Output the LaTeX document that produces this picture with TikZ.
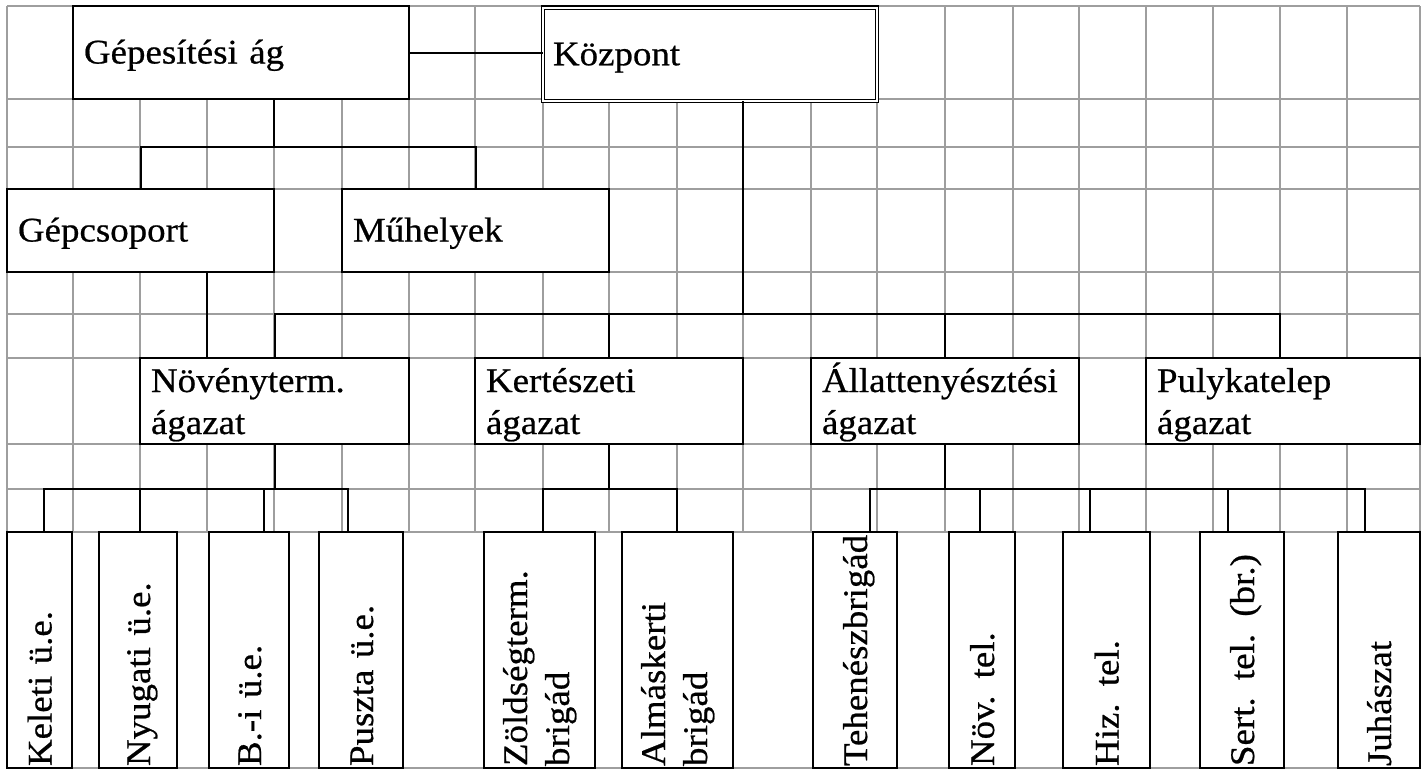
\documentclass[tikz,border=0pt]{standalone}
\usepackage{fontspec}
\setmainfont{Liberation Serif}[FakeStretch=1.07,FakeBold=0.6]
\definecolor{gridgray}{RGB}{158,158,158}
\begin{document}
\begin{tikzpicture}[x=1pt,y=-1pt]
\tikzset{
  gridline/.style={draw=gridgray, line width=1.6pt},
  conn/.style={draw=black, line width=2pt},
  box/.style={draw=black, line width=2pt, fill=white, rectangle, inner sep=0pt,
    inner xsep=11pt, outer sep=0pt, align=left, font=\fontsize{34.5}{42}\selectfont},
  one/.style={text height=30pt, text depth=8pt},
  two/.style={text height=31pt, text depth=49pt},
  vbox/.style={box, rotate=90, inner xsep=2pt, minimum width=236pt, text width=232pt},
  vone/.style={text height=32pt, text depth=8pt},
  vtwo/.style={text height=26pt, text depth=51pt},
}
\useasboundingbox (0,0) rectangle (1427,769);
\fill[white] (0,0) rectangle (1427,769);
% grid
\foreach \x in {7,73,140,207,274,342,409,475,543,609,677,743,811,877,945,1013,1079,1146,1213,1280,1347,1420}
  \draw[gridline] (\x,6) -- (\x,532);
\foreach \y in {6,99,147,189,272,314,358,444,489,532,768}
  \draw[gridline] (7,\y) -- (1420,\y);
% top level
\node[box,one,minimum width=336pt,minimum height=93pt,text width=314pt] (gep) at (241,52.5) {Gépesítési ág};
\node[box,one,double,double distance=2pt,line width=1.3pt,inner xsep=10pt,minimum width=334pt,minimum height=93.5pt,text width=314pt] (kozp) at (710,54.25) {Központ};
\node[box,one,minimum width=267pt,minimum height=83pt,text width=245pt] (gcs) at (140.5,230.5) {Gépcsoport};
\node[box,one,minimum width=267pt,minimum height=83pt,text width=245pt] (muh) at (475.5,230.5) {Műhelyek};
% branches
\node[box,two,minimum width=269pt,minimum height=86pt,text width=247pt] (nov) at (274.5,401) {Növényterm.\\ágazat};
\node[box,two,minimum width=268pt,minimum height=86pt,text width=246pt] (kert) at (609,401) {Kertészeti\\ágazat};
\node[box,two,minimum width=268pt,minimum height=86pt,text width=246pt] (all) at (945,401) {Állattenyésztési\\ágazat};
\node[box,two,minimum width=274pt,minimum height=86pt,text width=252pt] (puly) at (1283,401) {Pulykatelep\\ágazat};
% bottom units
\node[vbox,vone,minimum height=65pt] (kel) at (39.5,650) {Keleti ü.e.};
\node[vbox,vone,minimum height=78pt] (nyu) at (138,650) {Nyugati ü.e.};
\node[vbox,vone,minimum height=80pt] (bi) at (249,650) {B.-i ü.e.};
\node[vbox,vone,minimum height=84pt] (pus) at (361,650) {Puszta ü.e.};
\node[vbox,vtwo,minimum height=111pt] (zold) at (539.5,650) {Zöldségterm.\\brigád};
\node[vbox,vtwo,minimum height=111pt] (alm) at (677.5,650) {Almáskerti\\brigád};
\node[vbox,vone,minimum height=84pt] (teh) at (855,650) {Tehenészbrigád};
\node[vbox,vone,minimum height=66pt] (novt) at (982,650) {Növ. tel.};
\node[vbox,vone,minimum height=87pt] (hiz) at (1106.5,650) {Hiz. tel.};
\node[vbox,vone,minimum height=84pt] (sert) at (1242,650) {Sert. tel. (br.)};
\node[vbox,vone,minimum height=82pt] (juh) at (1379,650) {Juhászat};
% connectors
\draw[conn] (gep.east) -- (gep.east -| kozp.west);
\draw[conn] (gep.south -| 274,0) -- ++(0,48) coordinate (gbus);
\draw[conn] (gcs.north) |- (gbus) -| (muh.north);
\draw[conn] (gcs.south -| 207,0) -- (nov.north -| 207,0);
\draw[conn] (nov.north) -- ++(0,-44) coordinate (kb) -| (puly.north -| 1280,0);
\draw[conn] (kozp.south -| 743,0) -- (kb -| 743,0);
\draw[conn] (kert.north) -- ++(0,-44);
\draw[conn] (all.north) -- ++(0,-44);
% plant production
\draw[conn] (nov.south) -- ++(0,45);
\draw[conn] (kel.east -| 44,0) -- ++(0,-43) -| (pus.east -| 348,0);
\draw[conn] (nyu.east -| 140,0) -- ++(0,-43);
\draw[conn] (bi.east -| 264,0) -- ++(0,-43);
% horticulture
\draw[conn] (kert.south) -- ++(0,45);
\draw[conn] (zold.east -| 543,0) -- ++(0,-43) -| (alm.east -| 677,0);
% animal husbandry
\draw[conn] (all.south) -- ++(0,45);
\draw[conn] (teh.east -| 870,0) -- ++(0,-43) -| (juh.east -| 1365,0);
\draw[conn] (novt.east -| 980,0) -- ++(0,-43);
\draw[conn] (hiz.east -| 1090,0) -- ++(0,-43);
\draw[conn] (sert.east -| 1228,0) -- ++(0,-43);
\end{tikzpicture}
\end{document}
